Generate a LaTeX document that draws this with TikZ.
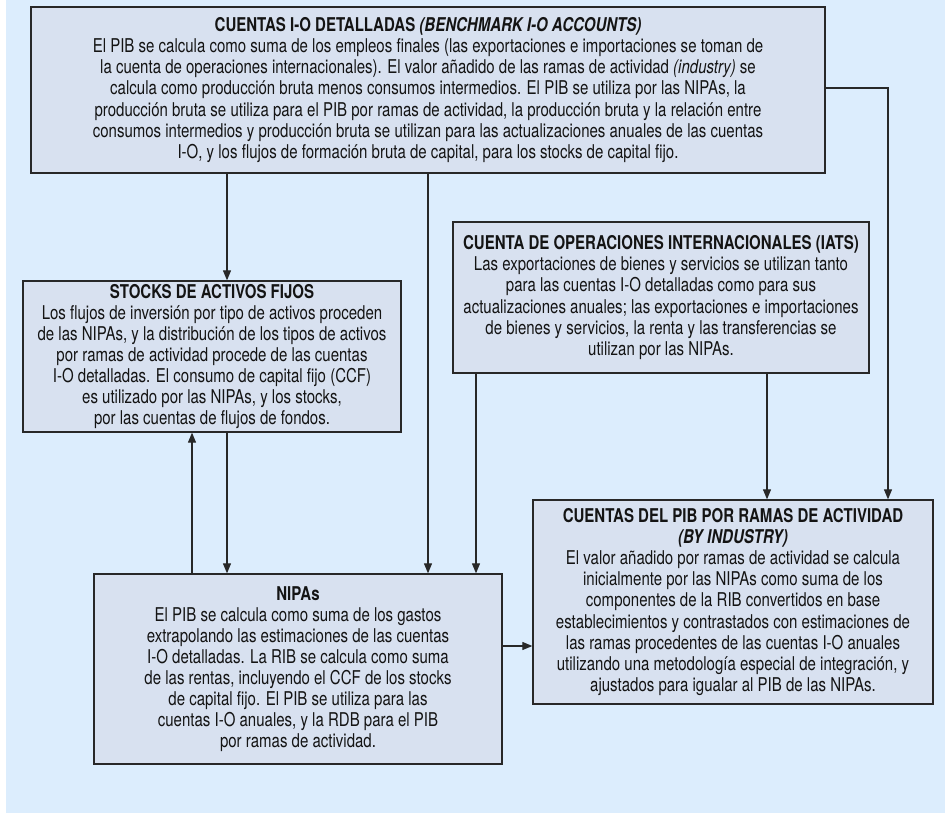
\documentclass[tikz,border=0pt]{standalone}
\usepackage{fontspec}
\setmainfont{TeX Gyre Heros}[FakeStretch=0.79]
\usepackage{tikz}
\usetikzlibrary{arrows.meta}

\definecolor{fondo}{RGB}{220,237,253}
\definecolor{caja}{RGB}{216,225,240}
\definecolor{borde}{RGB}{40,40,40}

\tikzset{
  cuenta/.style={draw=borde, fill=caja, line width=1.3pt, rectangle, align=center,
    inner sep=0pt, text=black!92, font=\fontsize{19}{21.1}\selectfont},
  flujo/.style={draw=borde, line width=1.1pt, -{Triangle[length=10pt,width=8pt]}}
}

\begin{document}
\begin{tikzpicture}[x=1pt, y=-1pt]
    \useasboundingbox (0,0) rectangle (945,816);
    \fill[fondo] (6,0) rectangle (945,813);

    \node[cuenta, minimum width=794pt, minimum height=166pt] (io) at (428,90)
        {\textbf{CUENTAS I-O DETALLADAS \textit{(BENCHMARK I-O ACCOUNTS)}}\\
         El PIB se calcula como suma de los empleos finales (las exportaciones e importaciones se toman de\\
         la cuenta de operaciones internacionales). El valor añadido de las ramas de actividad \textit{(industry)} se\\
         calcula como producción bruta menos consumos intermedios. El PIB se utiliza por las NIPAs, la\\
         producción bruta se utiliza para el PIB por ramas de actividad, la producción bruta y la relación entre\\
         consumos intermedios y producción bruta se utilizan para las actualizaciones anuales de las cuentas\\
         I-O, y los flujos de formación bruta de capital, para los stocks de capital fijo.};
    \node[cuenta, minimum width=378pt, minimum height=151pt] (stocks) at (212,356.5)
        {\textbf{STOCKS DE ACTIVOS FIJOS}\\
         Los flujos de inversión por tipo de activos proceden\\
         de las NIPAs, y la distribución de los tipos de activos\\
         por ramas de actividad procede de las cuentas\\
         I-O detalladas. El consumo de capital fijo (CCF)\\
         es utilizado por las NIPAs, y los stocks,\\
         por las cuentas de flujos de fondos.};
    \node[cuenta, minimum width=416pt, minimum height=151pt] (iats) at (661,297.5)
        {\textbf{CUENTA DE OPERACIONES INTERNACIONALES (IATS)}\\
         Las exportaciones de bienes y servicios se utilizan tanto\\
         para las cuentas I-O detalladas como para sus\\
         actualizaciones anuales; las exportaciones e importaciones\\
         de bienes y servicios, la renta y las transferencias se\\
         utilizan por las NIPAs.};
    \node[cuenta, minimum width=408pt, minimum height=190pt] (nipa) at (298,669)
        {\textbf{NIPAs}\\
         El PIB se calcula como suma de los gastos\\
         extrapolando las estimaciones de las cuentas\\
         I-O detalladas. La RIB se calcula como suma\\
         de las rentas, incluyendo el CCF de los stocks\\
         de capital fijo. El PIB se utiliza para las\\
         cuentas I-O anuales, y la RDB para el PIB\\
         por ramas de actividad.};
    \node[cuenta, minimum width=400pt, minimum height=204pt] (pib) at (733,602)
        {\textbf{CUENTAS DEL PIB POR RAMAS DE ACTIVIDAD}\\
         \textbf{\textit{(BY INDUSTRY)}}\\
         El valor añadido por ramas de actividad se calcula\\
         inicialmente por las NIPAs como suma de los\\
         componentes de la RIB convertidos en base\\
         establecimientos y contrastados con estimaciones de\\
         las ramas procedentes de las cuentas I-O anuales\\
         utilizando una metodología especial de integración, y\\
         ajustados para igualar al PIB de las NIPAs.};

    % flujos entre cuentas
    \draw[flujo] (io.south -| 227,0) -- (stocks.north -| 227,0);
    \draw[flujo] (io.south -| 428,0) -- (nipa.north -| 428,0);
    \draw[flujo] (io.east |- 0,88) -| (pib.north -| 888,0);
    \draw[flujo] (iats.south -| 476,0) -- (nipa.north -| 476,0);
    \draw[flujo] (iats.south -| 767,0) -- (pib.north -| 767,0);
    \draw[flujo] (stocks.south -| 227,0) -- (nipa.north -| 227,0);
    \draw[flujo] (nipa.north -| 192,0) -- (stocks.south -| 192,0);
    \draw[flujo] (nipa.east |- 0,646) -- (pib.west |- 0,646);
\end{tikzpicture}
\end{document}
